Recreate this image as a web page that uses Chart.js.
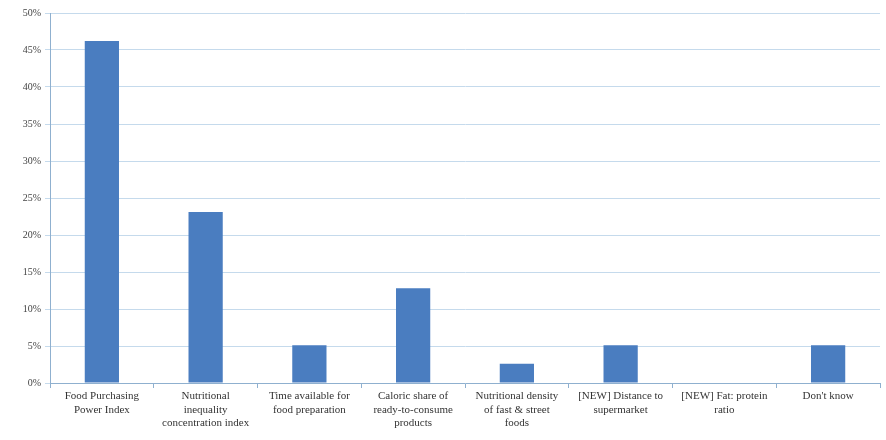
<!DOCTYPE html>
<html>
<head>
<meta charset="utf-8">
<script src="https://cdn.jsdelivr.net/npm/chart.js@4"></script>
<style>
  html, body { margin: 0; padding: 0; background: #ffffff; }
  #wrap { width: 886px; height: 440px; position: relative; }
</style>
</head>
<body>
<div id="wrap"><canvas id="chart"></canvas></div>
<script>
const categories = [
  ['Food Purchasing', 'Power Index'],
  ['Nutritional', 'inequality', 'concentration index'],
  ['Time available for', 'food preparation'],
  ['Caloric share of', 'ready-to-consume', 'products'],
  ['Nutritional density', 'of fast & street', 'foods'],
  ['[NEW] Distance to', 'supermarket'],
  ['[NEW] Fat: protein', 'ratio'],
  ["Don't know"]
];
const shares = [46.2, 23.1, 5.1, 12.8, 2.6, 5.1, 0, 5.1];
const yMax = 50;
const yStep = 5;

const serif = '"Liberation Serif", "DejaVu Serif", serif';

new Chart(document.getElementById('chart'), {
  type: 'bar',
  data: {
    labels: categories,
    datasets: [{
      data: shares,
      backgroundColor: '#4a7dc0',
      borderWidth: 0,
      barPercentage: 0.66,
      categoryPercentage: 0.5
    }]
  },
  options: {
    responsive: true,
    maintainAspectRatio: false,
    animation: false,
    layout: { padding: { top: 13, right: 6, left: 0, bottom: 0 } },
    plugins: { legend: { display: false }, tooltip: { enabled: false } },
    scales: {
      x: {
        grid: { drawOnChartArea: false, color: '#8fb0cf', tickLength: 5, offset: true },
        border: { color: '#8fb0cf', width: 1 },
        ticks: {
          color: '#333333',
          font: { family: serif, size: 11 },
          maxRotation: 0,
          autoSkip: false,
          padding: 2
        },
        afterFit: axis => { axis.height = 57; }
      },
      y: {
        min: 0,
        max: yMax,
        grid: { color: '#c5daec', tickLength: 5 },
        border: { color: '#8fb0cf', width: 1 },
        ticks: {
          stepSize: yStep,
          color: '#444444',
          font: { family: serif, size: 10 },
          padding: 4,
          callback: v => v + '%'
        },
        afterFit: axis => { axis.width = 50; }
      }
    }
  }
});
</script>
</body>
</html>
